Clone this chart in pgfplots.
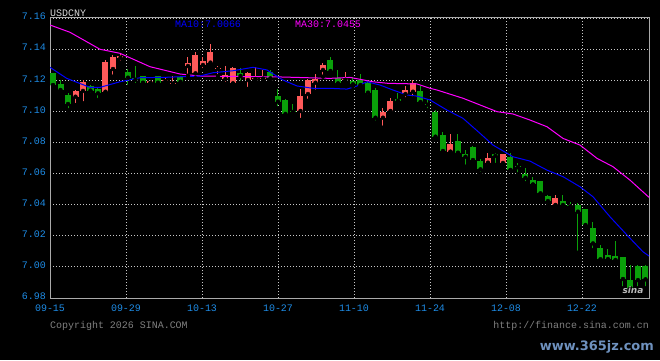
\documentclass[border=0pt]{standalone}
\usepackage{pgfplots}
\pgfplotsset{compat=1.18}
\usepackage{pgfplotstable}
\usepackage{fontspec}
\setmainfont{Liberation Mono}
\newfontfamily\wmfont{DejaVu Sans}
\definecolor{tickblue}{RGB}{30,140,230}
\definecolor{upred}{RGB}{255,90,90}
\definecolor{dngreen}{RGB}{10,160,10}
\definecolor{maten}{RGB}{0,0,255}
\definecolor{mathirty}{RGB}{255,0,255}
\definecolor{gridc}{RGB}{200,200,200}
\definecolor{framec}{RGB}{170,170,170}
\definecolor{txtgray}{RGB}{128,128,128}
\definecolor{wmblue}{RGB}{110,145,190}

\pgfplotstableread{
i o h l c
3 7.1094 7.1135 7.1040 7.1131
4 7.1131 7.1200 7.1052 7.1190
7 7.1126 7.1330 7.1120 7.1319
8 7.1272 7.1362 7.1223 7.1347
9 7.1345 7.1377 7.1313 7.1357
13 7.1184 7.1200 7.1182 7.1197
15 7.1193 7.1222 7.1190 7.1197
16 7.1178 7.1229 7.1176 7.1180
18 7.1291 7.1351 7.1229 7.1313
19 7.1244 7.1380 7.1212 7.1362
20 7.1298 7.1351 7.1266 7.1324
21 7.1313 7.1433 7.1304 7.1383
22 7.1272 7.1291 7.1227 7.1281
23 7.1208 7.1291 7.1176 7.1233
24 7.1180 7.1285 7.1176 7.1277
26 7.1201 7.1255 7.1144 7.1244
27 7.1208 7.1287 7.1201 7.1213
28 7.1210 7.1266 7.1208 7.1213
33 7.1002 7.1141 7.0944 7.1098
34 7.1111 7.1206 7.1068 7.1201
35 7.1184 7.1240 7.1126 7.1206
36 7.1266 7.1309 7.1223 7.1298
39 7.1203 7.1255 7.1184 7.1206
44 7.0959 7.1020 7.0895 7.0998
45 7.1002 7.1084 7.0998 7.1066
47 7.1111 7.1163 7.1077 7.1137
48 7.1126 7.1201 7.1084 7.1180
53 7.0740 7.0854 7.0740 7.0790
58 7.0670 7.0730 7.0648 7.0702
60 7.0668 7.0728 7.0655 7.0725
67 7.0398 7.0462 7.0395 7.0441
}\redtab

\pgfplotstableread{
i o h l c
0 7.1244 7.1248 7.1165 7.1169
1 7.1174 7.1200 7.1126 7.1137
2 7.1105 7.1116 7.1008 7.1047
5 7.1163 7.1170 7.1105 7.1133
6 7.1142 7.1159 7.1073 7.1116
10 7.1255 7.1270 7.1158 7.1216
11 7.1213 7.1291 7.1169 7.1203
12 7.1227 7.1230 7.1180 7.1184
14 7.1227 7.1230 7.1175 7.1184
17 7.1222 7.1225 7.1180 7.1190
25 7.1248 7.1277 7.1184 7.1227
29 7.1255 7.1268 7.1197 7.1212
30 7.1098 7.1141 7.1020 7.1062
31 7.1073 7.1079 7.0972 7.0983
32 7.1002 7.1047 7.0975 7.0996
37 7.1330 7.1347 7.1233 7.1259
38 7.1212 7.1266 7.1176 7.1180
40 7.1197 7.1218 7.1163 7.1174
41 7.1201 7.1240 7.1163 7.1169
42 7.1180 7.1197 7.1094 7.1120
43 7.1137 7.1150 7.0927 7.0959
46 7.1079 7.1120 7.1052 7.1068
49 7.1131 7.1163 7.1045 7.1060
50 7.1047 7.1077 7.1008 7.1043
51 7.0998 7.1008 7.0826 7.0837
52 7.0848 7.0869 7.0740 7.0745
54 7.0809 7.0854 7.0730 7.0734
55 7.0725 7.0751 7.0644 7.0708
56 7.0772 7.0777 7.0676 7.0687
57 7.0681 7.0691 7.0597 7.0627
59 7.0723 7.0730 7.0655 7.0714
61 7.0708 7.0730 7.0620 7.0623
62 7.0648 7.0666 7.0595 7.0640
63 7.0595 7.0638 7.0537 7.0573
64 7.0558 7.0580 7.0526 7.0530
65 7.0552 7.0555 7.0447 7.0473
66 7.0455 7.0462 7.0398 7.0423
68 7.0423 7.0462 7.0383 7.0398
69 7.0394 7.0419 7.0366 7.0390
70 7.0398 7.0413 7.0091 7.0355
71 7.0370 7.0372 7.0258 7.0269
72 7.0252 7.0291 7.0108 7.0151
73 7.0123 7.0140 7.0039 7.0049
74 7.0076 7.0114 7.0045 7.0050
75 7.0070 7.0166 7.0039 7.0044
76 7.0061 7.0064 6.9862 6.9922
77 6.9915 7.0012 6.9851 6.9862
78 7.0005 7.0012 6.9862 6.9915
79 7.0005 7.0010 6.9862 6.9920
}\greentab

\begin{document}
\begin{tikzpicture}[x=1bp,y=1bp]
\fill[black,use as bounding box] (0,0) rectangle (660,360);
\begin{axis}[
  at={(50bp,62bp)}, anchor=south west,
  scale only axis, width=599bp, height=280bp,
  xmin=-0.4, xmax=79.47, ymin=6.98, ymax=7.16,
  enlargelimits=false,
  axis line style={framec, line width=1bp},
  major tick length=0pt,
  xtick={-0.4,9.73,19.87,30,40.13,50.27,60.4,70.53},
  xticklabels={09-15,09-29,10-13,10-27,11-10,11-24,12-08,12-22},
  ytick={6.98,7.00,7.02,7.04,7.06,7.08,7.10,7.12,7.14,7.16},
  yticklabels={6.98,7.00,7.02,7.04,7.06,7.08,7.10,7.12,7.14,7.16},
  tick label style={text=tickblue, font=\fontsize{10}{12}\selectfont, inner sep=0pt},
  xticklabel style={anchor=north, yshift=-7bp},
  yticklabel style={anchor=east, xshift=-4bp, yshift=1.5bp},
  grid=major,
  major grid style={gridc, line width=0.8bp, dash pattern=on 1bp off 2bp},
]
% wicks
\addplot[only marks, mark=none, forget plot,
  error bars/.cd, y dir=plus, y explicit, error mark=none,
  error bar style={draw=upred, solid, line width=1bp}]
  table[x=i, y=l, y error plus expr={\thisrow{h}-\thisrow{l}}] {\redtab};
\addplot[only marks, mark=none, forget plot,
  error bars/.cd, y dir=plus, y explicit, error mark=none,
  error bar style={draw=dngreen, solid, line width=1bp}]
  table[x=i, y=l, y error plus expr={\thisrow{h}-\thisrow{l}}] {\greentab};
% bodies
\addplot[only marks, mark=none, forget plot,
  error bars/.cd, y dir=plus, y explicit, error mark=none,
  error bar style={draw=upred, solid, line width=6bp}]
  table[x=i, y expr={min(\thisrow{o},\thisrow{c})}, y error plus expr={max(abs(\thisrow{c}-\thisrow{o}),0.0007)}] {\redtab};
\addplot[only marks, mark=none, forget plot,
  error bars/.cd, y dir=plus, y explicit, error mark=none,
  error bar style={draw=dngreen, solid, line width=6bp}]
  table[x=i, y expr={min(\thisrow{o},\thisrow{c})}, y error plus expr={max(abs(\thisrow{c}-\thisrow{o}),0.0007)}] {\greentab};
% MA30
\addplot[mathirty, line width=1bp, mark=none] coordinates {
(-0.4,7.1555) (2.27,7.1508) (6.27,7.1399) (8.93,7.1373) (12.93,7.1287)
(16.93,7.1240) (19.6,7.1227) (30.27,7.1221) (36.93,7.1212) (39.6,7.1218)
(42.67,7.1190) (44.67,7.1180) (48.53,7.1176) (50.27,7.1148) (51.2,7.1137)
(54.67,7.1084) (59.2,7.0998) (61.33,7.0983) (63.6,7.0944) (65.87,7.0901)
(68,7.0826) (70.27,7.0783) (72.53,7.0698) (74.67,7.0644) (76.93,7.0558)
(79.47,7.0447)};
% MA10
\addplot[maten, line width=1bp, mark=none] coordinates {
(-0.4,7.1283) (1.83,7.1212) (4.93,7.1154) (6.27,7.1154) (8.93,7.1190)
(11.6,7.1216) (15.2,7.1219) (19.6,7.1227) (21.33,7.1248) (24,7.1261)
(26.67,7.1283) (28.53,7.1266) (30.67,7.1201) (32.53,7.1163) (34.67,7.1148)
(36.93,7.1148) (39.2,7.1143) (40.53,7.1163) (41.87,7.1190) (43.6,7.1169)
(45.33,7.1137) (47.2,7.1105) (48.53,7.1098) (50.27,7.1073) (52.53,7.1008)
(54.67,7.0955) (56.93,7.0859) (58.67,7.0783) (61.33,7.0708) (63.6,7.0680)
(65.87,7.0622) (68,7.0580) (70.27,7.0515) (72,7.0451) (74.27,7.0322)
(76.53,7.0205) (78.67,7.0097) (79.47,7.0070)};
\end{axis}
\node[anchor=base west, text={rgb,255:red,215;green,215;blue,215}, font=\fontsize{10}{12}\selectfont, inner sep=0pt] at (50,344) {USDCNY};
\node[anchor=base west, text=maten, font=\fontsize{10}{12}\selectfont, inner sep=0pt] at (175,333) {MA10:7.0066};
\node[anchor=base west, text=mathirty, font=\fontsize{10}{12}\selectfont, inner sep=0pt] at (295,333) {MA30:7.0455};
\node[text=gray!55, font=\wmfont\bfseries\itshape\fontsize{9}{9}\selectfont, inner sep=0pt] at (633,70) {sina};
\node[anchor=base west, text=txtgray, font=\fontsize{10}{12}\selectfont, inner sep=0pt] at (50,32) {Copyright 2026 SINA.COM};
\node[anchor=base east, text=txtgray, font=\fontsize{10}{12}\selectfont, inner sep=0pt] at (649,32) {http://finance.sina.com.cn};
\node[anchor=base east, text=wmblue, font=\wmfont\bfseries\fontsize{13}{13}\selectfont, inner sep=0pt] at (654,10) {www.365jz.com};
\end{tikzpicture}
\end{document}
